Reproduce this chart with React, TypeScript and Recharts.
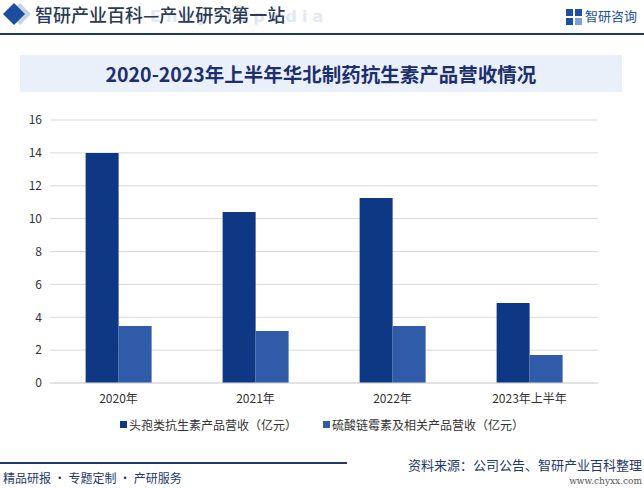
import { BarChart, Bar, XAxis, YAxis, CartesianGrid, Legend } from "recharts";

const categories = ["2020年", "2021年", "2022年", "2023年上半年"];
const cephalosporin = [14.0, 10.4, 11.25, 4.87];
const streptomycin = [3.47, 3.16, 3.47, 1.7];
const yTicks = [0, 2, 4, 6, 8, 10, 12, 14, 16];

const seriesNames = ["头孢类抗生素产品营收（亿元）", "硫酸链霉素及相关产品营收（亿元）"];
const seriesColors = ["#0e3883", "#2f5ba8"];

const data = categories.map((name, i) => ({
  name,
  a: cephalosporin[i],
  b: streptomycin[i],
}));

const font = "'Noto Sans CJK SC', 'Noto Sans', sans-serif";
const navy = "#1e3a6e";

const renderLegend = () => (
  <div style={{ display: "flex", justifyContent: "center", gap: 26, fontSize: 12, color: "#333", fontFamily: font }}>
    {seriesNames.map((n, i) => (
      <span key={n} style={{ display: "flex", alignItems: "center" }}>
        <span style={{ display: "inline-block", width: 7, height: 7, background: seriesColors[i], marginRight: 2 }} />
        {n}
      </span>
    ))}
  </div>
);

const App = () => {
  return (
    <div style={{ position: "absolute", left: 0, top: 0, width: 644, height: 488, background: "#fff", overflow: "hidden", fontFamily: font }}>
      {/* header */}
      <svg width={40} height={30} style={{ position: "absolute", left: 0, top: 0 }}>
        <polygon points="20,3 31,14 20,25 9,14" fill="#c9d3e6" />
        <polygon points="14,3 25,14 14,25 3,14" fill="#1d4d9e" />
      </svg>
      <div style={{ position: "absolute", left: 150, top: 7, fontSize: 16, fontWeight: 700, color: "#e3e8f0", letterSpacing: 5, fontFamily: "'DejaVu Sans', sans-serif" }}>
        Encyclopedia
      </div>
      <div style={{ position: "absolute", left: 35, top: 1, fontSize: 18, fontWeight: 500, color: "#2b3a58", whiteSpace: "nowrap" }}>
        智研产业百科—产业研究第一站
      </div>
      <svg width={16} height={16} style={{ position: "absolute", left: 566, top: 9 }}>
        <rect x={0} y={0} width={7} height={7} fill="#1e4fa0" />
        <rect x={9} y={0} width={7} height={7} fill="#1e4fa0" />
        <rect x={0} y={9} width={7} height={7} fill="#1e4fa0" />
        <rect x={9} y={9} width={7} height={7} fill="#7fa0d6" />
      </svg>
      <div style={{ position: "absolute", left: 585, top: 6, fontSize: 13, color: "#1e4fa0", whiteSpace: "nowrap" }}>智研咨询</div>
      <div style={{ position: "absolute", left: 0, top: 33, width: 644, height: 1.5, background: navy }} />

      {/* title */}
      <div style={{ position: "absolute", left: 20, top: 55, width: 602, height: 37, background: "#eaf0fa", display: "flex", alignItems: "center", justifyContent: "center", fontSize: 19.5, fontWeight: 700, color: "#1c2f6e" }}>
        2020-2023年上半年华北制药抗生素产品营收情况
      </div>

      <div style={{ position: "absolute", left: 0, top: 0 }}>
        <BarChart width={644} height={488} data={data} margin={{ top: 120, right: 46, bottom: 47, left: 0 }} barGap={0} barCategoryGap="26%">
          <CartesianGrid vertical={false} stroke="#d9d9d9" />
          <XAxis dataKey="name" tickLine={false} axisLine={{ stroke: "#d9d9d9" }} tick={{ fontSize: 12, fill: "#333", fontFamily: font, dy: 3 }} height={41} />
          <YAxis domain={[0, 16]} ticks={yTicks} width={50} tickLine={false} axisLine={false} tick={{ fontSize: 12, fill: "#333", fontFamily: font }} />
          <Legend content={renderLegend} verticalAlign="bottom" wrapperStyle={{ top: 416, left: 0, width: 644 }} />
          <Bar dataKey="a" name={seriesNames[0]} fill={seriesColors[0]} isAnimationActive={false} />
          <Bar dataKey="b" name={seriesNames[1]} fill={seriesColors[1]} isAnimationActive={false} />
        </BarChart>
      </div>

      {/* footer */}
      <div style={{ position: "absolute", left: 0, top: 462, width: 347, height: 1.5, background: navy }} />
      <div style={{ position: "absolute", left: 3, top: 469, fontSize: 12, color: navy, whiteSpace: "nowrap" }}>精品研报 · 专题定制 · 产研服务</div>
      <div style={{ position: "absolute", right: 2, top: 455, fontSize: 13, color: navy, whiteSpace: "nowrap" }}>资料来源：公司公告、智研产业百科整理</div>
      <div style={{ position: "absolute", right: 2, top: 476, fontSize: 9, color: "#555", fontFamily: "'DejaVu Serif', serif", whiteSpace: "nowrap" }}>www.chyxx.com</div>
    </div>
  );
};

export default App;
